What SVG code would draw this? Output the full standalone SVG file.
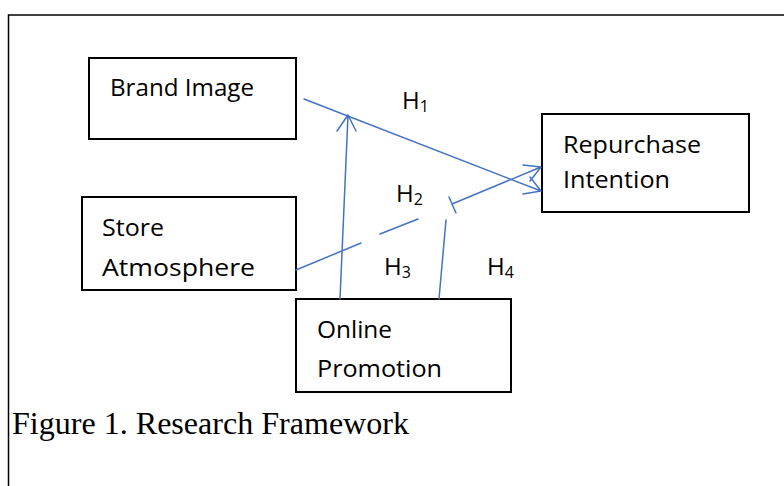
<svg xmlns="http://www.w3.org/2000/svg" width="784" height="486" viewBox="0 0 784 486">
<style>
.frame{fill:none;stroke:#000;stroke-width:1.5}
.box{fill:#fff;stroke:#000;stroke-width:2}
.lbl{font-family:"Open Sans","Liberation Sans",sans-serif;font-size:24px;fill:#000}
.h{font-family:"Open Sans","Liberation Sans",sans-serif;font-size:24px;fill:#000}
.sub{font-size:16px}
.cap{font-family:"Liberation Serif","Times New Roman",serif;font-size:31px;fill:#000}
.ln{fill:none;stroke:#4472C4;stroke-width:1.5;stroke-linecap:round;stroke-linejoin:round}
</style>
<rect width="784" height="486" fill="#fff"/>
<rect class="frame" x="8.5" y="15" width="800" height="500"/>

<g id="node-brand-image">
<rect class="box" x="89" y="58" width="207" height="81"/>
<text class="lbl" x="110" y="96" textLength="144" lengthAdjust="spacingAndGlyphs">Brand Image</text>
</g>
<g id="node-store-atmosphere">
<rect class="box" x="82" y="197" width="214" height="93"/>
<text class="lbl" x="102" y="236" textLength="62" lengthAdjust="spacingAndGlyphs">Store</text>
<text class="lbl" x="102" y="276" textLength="153" lengthAdjust="spacingAndGlyphs">Atmosphere</text>
</g>
<g id="node-repurchase-intention">
<rect class="box" x="542" y="114" width="207" height="98"/>
<text class="lbl" x="563" y="153" textLength="138" lengthAdjust="spacingAndGlyphs">Repurchase</text>
<text class="lbl" x="563" y="188" textLength="107" lengthAdjust="spacingAndGlyphs">Intention</text>
</g>
<g id="node-online-promotion">
<rect class="box" x="296" y="299" width="215" height="93"/>
<text class="lbl" x="317" y="338" textLength="75" lengthAdjust="spacingAndGlyphs">Online</text>
<text class="lbl" x="317" y="377" textLength="125" lengthAdjust="spacingAndGlyphs">Promotion</text>
</g>

<g id="connectors">
<path class="ln" d="M304,99 L541,191 M523,194 L541,191 L530,177"/>
<path class="ln" d="M296,270 L361,243 M380,234 L418,219 M452,204 L541,167 M523,165 L541,167 L530,181 M449,197 L456,213"/>
<path class="ln" d="M340,299 L348,115 M337,131 L348,115 L356,131"/>
<path class="ln" d="M439,299 L446,220"/>
</g>

<g id="labels">
<text class="h" x="402" y="109">H<tspan class="sub" dy="3">1</tspan></text>
<text class="h" x="396" y="202">H<tspan class="sub" dy="3">2</tspan></text>
<text class="h" x="384" y="275">H<tspan class="sub" dy="3">3</tspan></text>
<text class="h" x="487" y="275">H<tspan class="sub" dy="3">4</tspan></text>
</g>

<text class="cap" x="12" y="434" textLength="397" lengthAdjust="spacingAndGlyphs">Figure 1. Research Framework</text>
</svg>
